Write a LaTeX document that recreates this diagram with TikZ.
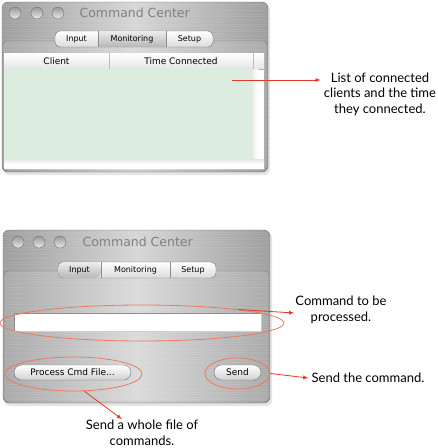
\documentclass[tikz,border=0pt]{standalone}
\usepackage{fontspec}
\setmainfont{Lato}
\newfontfamily\uifont{DejaVu Sans}
\usetikzlibrary{shapes.geometric,shapes.misc,positioning}
\definecolor{callred}{RGB}{226,58,38}
\definecolor{ringred}{RGB}{236,122,92}
\definecolor{listgreen}{RGB}{220,237,224}
\definecolor{titlegray}{RGB}{128,128,128}

\begin{document}
\begin{tikzpicture}[
  x=1pt, y=-1pt,
  metal/.style={left color=black!38, right color=black!38, middle color=black!16, draw=black!55, rounded corners=6pt},
  brush/.style={white, opacity=0.08, line width=0.5pt},
  panel/.style={draw=black!50, rounded corners=4pt, fill=white, fill opacity=0.12},
  lamp/.style={circle, minimum size=12pt, inner sep=0pt, top color=black!40, bottom color=black!8, draw=black!55},
  wintitle/.style={anchor=west, text=titlegray, font=\uifont\fontsize{12.5}{14}\selectfont},
  tabseg/.style={top color=white, bottom color=black!14, draw=black!55, rounded corners=5pt},
  tabon/.style={top color=black!8, bottom color=black!28},
  tablabel/.style={font=\uifont\fontsize{8}{9}\selectfont, inner sep=0pt},
  hdlabel/.style={font=\uifont\fontsize{9}{10}\selectfont, inner sep=0pt},
  btn/.style={rounded rectangle, top color=white, bottom color=black!18, draw=black!55, font=\uifont\fontsize{9}{10}\selectfont, inner sep=0pt, minimum height=15pt},
  ring/.style={ellipse, draw=ringred, line width=0.8pt, inner sep=0pt},
  note/.style={align=center, font=\fontsize{13}{15.5}\selectfont, inner sep=1pt},
  arw/.style={->, >=latex, callred, line width=0.8pt}
  ]
\useasboundingbox (0,0) rectangle (438,448);

% top window: monitoring tab
\fill[black!20, opacity=0.5, rounded corners=6pt] (3,4) rectangle (270,175);
\path[metal] (2,2) rectangle (268,172);
\begin{scope}
  \clip[rounded corners=6pt] (2,2) rectangle (268,172);
  \foreach \y in {4,6.5,...,171} \draw[brush] (2,\y) -- (268,\y);
\end{scope}
\path[panel] (3,41) rectangle (267,171);
\node[lamp] (t1) at (15,13) {};
\node[lamp] (t2) at (37,13) {};
\node[lamp] (t3) at (58,13) {};
\node[wintitle] (ttitle) at (76,13) {Command Center};

\path[tabseg] (55,31) rectangle (213,47);
\path[tabon] (98,31.5) rectangle (166,46.5);
\draw[black!45] (98,31) -- (98,47);
\draw[black!45] (166,31) -- (166,47);
\node[tablabel] (tinput) at (76.5,39) {Input};
\node[tablabel] (tmon) at (132,39) {Monitoring};
\node[tablabel] (tsetup) at (189.5,39) {Setup};

\fill[white] (4,53) rectangle (264,169);
\path[top color=white, bottom color=black!10] (4,53) rectangle (264,69);
\draw[black!30] (4,69) -- (264,69);
\draw[black!25] (109,53) -- (109,69);
\draw[black!25] (253,53) -- (253,69);
\fill[listgreen] (4,69) rectangle (253,159);
\path[left color=black!6, right color=white] (253,69) rectangle (258,159);
\path[top color=black!10, bottom color=white] (4,159) rectangle (264,164);
\node[hdlabel] (hclient) at (56.5,61) {Client};
\node[hdlabel] (htime) at (181,61) {Time Connected};

\coordinate (liststart) at (232,80);
\node[note] (listnote) at (380,94) {List of connected\\clients and the time\\they connected.};
\draw[arw] (liststart) -- ([xshift=-2pt]liststart -| listnote.west);

% bottom window: input tab
\fill[black!20, opacity=0.5, rounded corners=6pt] (4,232) rectangle (272,406);
\path[metal] (3,230) rectangle (270,403);
\begin{scope}
  \clip[rounded corners=6pt] (3,230) rectangle (270,403);
  \foreach \y in {232,234.5,...,402} \draw[brush] (3,\y) -- (270,\y);
\end{scope}
\path[panel] (4,271) rectangle (269,402);
\node[lamp] (b1) at (18,242) {};
\node[lamp] (b2) at (39,242) {};
\node[lamp] (b3) at (60,242) {};
\node[wintitle] (btitle) at (79,242) {Command Center};

\path[tabseg] (58,262) rectangle (216,278);
\path[tabon, rounded corners=5pt] (58.5,262.5) -- (101,262.5) -- (101,277.5) -- (58.5,277.5) -- cycle;
\draw[black!45] (101,262) -- (101,278);
\draw[black!45] (170,262) -- (170,278);
\node[tablabel] (binput) at (79.5,270) {Input};
\node[tablabel] (bmon) at (135.5,270) {Monitoring};
\node[tablabel] (bsetup) at (193,270) {Setup};

\fill[white] (14,313) rectangle (261,331);
\draw[black!45] (14,331) -- (14,313) -- (261,313);
\draw[black!20] (261,313) -- (261,331) -- (14,331);

\node[btn, minimum width=117pt] (procbtn) at (72.5,372.5) {Process Cmd File...};
\node[btn, minimum width=47pt] (sendbtn) at (237.5,372.5) {Send};

\node[ring, minimum width=284pt, minimum height=36pt] (fieldring) at (142,323) {};
\node[ring, minimum width=137pt, minimum height=34pt] (procring) at (73.5,374) {};
\node[ring, minimum width=65pt, minimum height=31pt] (sendring) at (237.5,373.5) {};

\node[note] (cmdnote) at (341,310) {Command to be\\processed.};
\node[note] (sendnote) at (368,378) {Send the command.};
\node[note] (filenote) at (142,433) {Send a whole file of\\commands.};

\draw[arw] (fieldring.8) -- ([yshift=-3pt]cmdnote.west);
\draw[arw] (sendring.east) -- ([xshift=-2pt]sendnote.west);
\draw[arw] (procring.-58) -- ([xshift=-20pt]filenote.north);

\end{tikzpicture}
\end{document}
